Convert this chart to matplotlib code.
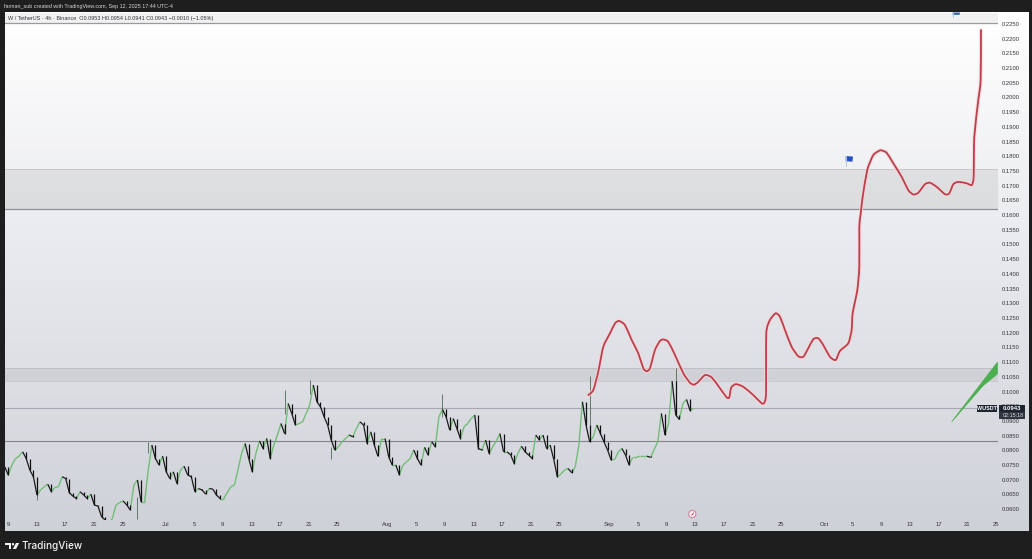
import numpy as np
import matplotlib
matplotlib.use("Agg")
import matplotlib.pyplot as plt
from matplotlib.patches import Polygon, Rectangle, Circle, PathPatch
from matplotlib.path import Path
from matplotlib.collections import LineCollection
import matplotlib.patheffects as pe

W, H = 1032, 559
plt.rcParams['font.family'] = ['Liberation Sans', 'DejaVu Sans']

# x unit: days after 9 June
tick_days = [0, 4, 8, 12, 16, 22, 26, 30, 34, 38, 42, 46, 53, 57, 61, 65, 69, 73, 77,
             84, 88, 92, 96, 100, 104, 108, 114, 118, 122, 126, 130, 134, 138]
tick_names = ['9', '13', '17', '21', '25', 'Jul', '5', '9', '13', '17', '21', '25', 'Aug', '5', '9',
              '13', '17', '21', '25', 'Sep', '5', '9', '13', '17', '21', '25', 'Oct', '5', '9',
              '13', '17', '21', '25']
price_ticks = [0.0600, 0.0650, 0.0700, 0.0750, 0.0800, 0.0850, 0.0900, 0.0950, 0.1000, 0.1050, 0.1100,
               0.1150, 0.1200, 0.1250, 0.1300, 0.1350, 0.1400, 0.1450, 0.1500, 0.1550, 0.1600, 0.1650,
               0.1700, 0.1750, 0.1800, 0.1850, 0.1900, 0.1950, 0.2000, 0.2050, 0.2100, 0.2150, 0.2200,
               0.2250]

closes = [
 .0744, .0716, .0750, .0772, .0780, .0795, .0772, .0733, .0710, .0648, .0665, .0676, .0685, .0659, .0674,
 .0676, .0710, .0704, .0656, .0644, .0636, .0659, .0648, .0636, .0651, .0614, .0610, .0574, .0563, .0551,
 .0568, .0614, .0622, .0628, .0614, .0597, .0682, .0699, .0625, .0625, .0733, .0818, .0772, .0750, .0780,
 .0727, .0704, .0727, .0687, .0733, .0746, .0716, .0710, .0659, .0670, .0665, .0651, .0670, .0668, .0648,
 .0636, .0636, .0656, .0676, .0682, .0733, .0789, .0823, .0772, .0727, .0789, .0832, .0806, .0840, .0772,
 .0818, .0852, .0891, .0857, .0959, .0925, .0886, .0891, .0897, .0925, .0954, .1022, .0965, .0948, .0914,
 .0886, .0835, .0801, .0812, .0829, .0840, .0852,
 .0846, .0874, .0897, .0886, .0823, .0863, .0818, .0780, .0840, .0840, .0778, .0750, .0750, .0716, .0750,
 .0761, .0772, .0801, .0772, .0750, .0810, .0784, .0829, .0812, .0914, .0939, .0914, .0869, .0908, .0874,
 .0840, .0880, .0891, .0908, .0920, .0806, .0801, .0835, .0789, .0812, .0832, .0857, .0795, .0795, .0784,
 .0755, .0789, .0814, .0795, .0784, .0772, .0852, .0835, .0852, .0806, .0818, .0769, .0710, .0719, .0733,
 .0738, .0724, .0744, .0818, .0965, .0886, .0829, .0846, .0886, .0857, .0829, .0801, .0767, .0769, .0795,
 .0806, .0784, .0750, .0776, .0776, .0780, .0780, .0780, .0776, .0803, .0829, .0925, .0852, .0891, .1035,
 .0920, .0905, .0959, .0973, .0935, .0943]
first_candle_day = -0.46
last_candle_day = 95.77

# (day, low end, high end) of the long wicks
wick_days = [3.9, 18.0, 19.5, 38.5, 42.2, 44.9, 60.5, 81.0, 93.5]
wick_lows = [.0631, .0565, .0790, .0925, .0990, .0769, .0914, .0886, .0920]
wick_highs = [.0680, .0640, .0829, .1005, .1039, .0812, .0991, .1052, .1080]

red_days = [81.05, 81.75, 82.44, 83.14, 84.08, 84.78, 85.34, 86.17, 87.11, 88.03, 88.73, 89.20, 89.66, 90.36,
            91.06, 91.52, 92.22, 93.16, 94.32, 95.25, 95.81, 96.41, 97.35, 98.28, 99.44, 100.38, 100.74,
            101.02, 101.68, 102.70, 104.09, 105.26, 105.63, 105.87, 105.91, 106.42, 107.22, 107.82, 108.52,
            109.45, 110.38, 111.08, 111.77, 112.47, 113.17, 113.87, 114.80, 115.60, 116.20, 117.36, 117.83,
            117.97, 118.62, 118.90, 118.90, 119.07, 119.37, 120.01, 120.85, 121.69, 122.02, 122.72, 123.65,
            124.82, 125.74, 126.45, 127.14, 128.07, 128.77, 129.71, 130.87, 131.47, 132.03, 132.73, 133.90,
            134.60, 134.87, 134.96, 135.52, 135.85, 135.89]
red_prices = [.0988, .1005, .1067, .1152, .1198, .1232, .1240, .1226, .1175, .1130, .1079, .1069, .1079, .1141,
              .1172, .1177, .1169, .1124, .1062, .1030, .1023, .1033, .1056, .1048, .1011, .0980, .0980,
              .1014, .1025, .1016, .0988, .0960, .0962, .0994, .1198, .1243, .1266, .1254, .1209,
              .1152, .1120, .1118, .1147, .1178, .1181, .1158, .1118, .1107, .1138, .1164, .1209,
              .1266, .1345, .1424, .1560, .1600, .1662, .1753, .1804, .1819, .1820, .1812, .1776,
              .1730, .1685, .1670, .1676, .1705, .1710, .1696, .1671, .1674, .1705, .1713, .1708,
              .1702, .1730, .1866, .1991, .2059, .2229]

green_days = [131.8, 138.2, 138.2, 136.2, 134.3]
green_prices = [.0897, .1100, .1060, .1020, .0967]

zone_high = (.1621, .1757)
zone_low = (.1035, .1081)
top_band = .2253
level_a = .0943
level_b = .0830

fig = plt.figure(figsize=(W / 100, H / 100), dpi=100, facecolor='#1e1e1e')

# pixel overlay for panel background
bg = fig.add_axes([0, 0, 1, 1], zorder=0)
bg.axis('off')
grad = np.linspace(0, 1, 256)[:, None, None]
top_c = np.array([1.0, 1.0, 1.0])
bot_c = np.array([0.81, 0.82, 0.85])
img = top_c + (bot_c - top_c) * grad
bg.imshow(img, extent=(4.7, 1028, 531, 12.5), aspect='auto', zorder=0)
bg.set_xlim(0, W)
bg.set_ylim(H, 0)

# main price axes: px 4.7..997.7, py 12.5..520
ax = fig.add_axes([4.7 / W, (H - 520) / H, 993 / W, 507.5 / H], zorder=1)
ax.patch.set_alpha(0)
ax.set_xlim(-0.46, 138.23)
ax.set_ylim(.0563, .2289)
for s in ax.spines.values():
    s.set_visible(False)

ax.axhspan(top_band, .2289, color='#000000', alpha=0.05, lw=0)
ax.axhline(top_band, color='#9a9a9e', lw=0.9)
ax.axhspan(*zone_high, color='#000000', alpha=0.07, lw=0)
ax.axhline(zone_high[0], color='#8f8f94', lw=0.9)
ax.axhline(zone_high[1], color='#c6c6c9', lw=0.7)
ax.axhspan(*zone_low, color='#000000', alpha=0.055, lw=0)
ax.axhline(zone_low[0], color='#c8c8cc', lw=0.6)
ax.axhline(zone_low[1], color='#bcbcc0', lw=0.6)
ax.axhline(level_a, color='#a6a6b4', lw=0.8)
ax.axhline(level_b, color='#83838a', lw=0.8)

# candles
c = np.array(closes)
x = np.linspace(first_candle_day, last_candle_day, len(c))
o = np.r_[c[0], c[:-1]]
up = c >= o
segs = np.stack([np.c_[np.r_[x[0], x[:-1]], o], np.c_[x, c]], axis=1)
ax.add_collection(LineCollection(segs[up], colors='#72bd76', linewidths=1.0, zorder=3))
ax.add_collection(LineCollection(segs[~up], colors='#1a1a1a', linewidths=0.9, zorder=4))
ax.vlines(x[~up], o[~up], c[~up], color='#101010', lw=0.9, zorder=4)
for d, lo, hi in zip(wick_days, wick_lows, wick_highs):
    i = np.argmin(np.abs(x - d))
    ax.vlines(x[i], lo, hi, color='#4d6b52', lw=0.6, zorder=2)


def smooth_path(px, py):
    """Cubic path running through every given vertex."""
    pts = np.c_[px, py]
    verts = [pts[0]]
    codes = [Path.MOVETO]
    for i in range(len(pts) - 1):
        p0 = pts[max(i - 1, 0)]
        p1 = pts[i]
        p2 = pts[i + 1]
        p3 = pts[min(i + 2, len(pts) - 1)]
        verts += [p1 + (p2 - p0) / 9, p2 - (p3 - p1) / 9, p2]
        codes += [Path.CURVE4] * 3
    return Path(verts, codes)


# drawn forecast path
ax.add_patch(PathPatch(smooth_path(red_days, red_prices), facecolor='none', edgecolor='#bb3f4c', lw=1.3,
                       capstyle='round', joinstyle='round', zorder=5,
                       path_effects=[pe.Stroke(linewidth=2.9, foreground='#f8d5d8', alpha=0.75), pe.Normal()]))
ax.add_patch(Polygon(np.c_[green_days, green_prices], closed=True, facecolor='#4caf50', edgecolor='#4caf50',
                     lw=0.5, zorder=5))

ax.xaxis.set_ticks(tick_days, tick_names)
ax.yaxis.tick_right()
ax.set_yticks(price_ticks, [f'{p:.4f}' for p in price_ticks])
ax.tick_params(axis='x', length=0, pad=1.6, labelsize=4.2, colors='#33333a')
ax.tick_params(axis='y', length=0, pad=3.0, labelsize=4.2, colors='#33333a')

# overlay in pixel coordinates
ov = fig.add_axes([0, 0, 1, 1], zorder=2)
ov.patch.set_alpha(0)
ov.set_xlim(0, W)
ov.set_ylim(H, 0)
ov.axis('off')

ov.text(4, 6.3, 'fannan_sub created with TradingView.com, Sep 12, 2025 17:44 UTC-4', color='#d8d8d8', fontsize=3.85,
        va='center', ha='left')
ov.text(8, 18.6, 'W / TetherUS · 4h · Binance  O0.0953 H0.0954 L0.0941 C0.0943 −0.0010 (−1.05%)',
        color='#33343a', fontsize=3.95, va='center', ha='left')

# flags
ov.add_patch(Polygon([(845.7, 156), (853, 156.6), (852.4, 161.7), (845.7, 161.2)], closed=True, color='#2450c4', lw=0))
ov.plot([845.6, 845.6], [156, 166], color='#b8c4de', lw=0.7)
ov.add_patch(Polygon([(952.7, 12.5), (960, 12.5), (959.6, 14.8), (952.7, 14.8)], closed=True, color='#2f5fa8', lw=0))
ov.plot([952.6, 952.6], [12.5, 16.7], color='#b8c4de', lw=0.7)

# compass icon
ov.add_patch(Circle((692.3, 514), 3.6, facecolor='#fbf3f6', edgecolor='#d77f9f', lw=0.8))
ov.add_patch(Polygon([(690.8, 515.6), (694.3, 511.8), (693, 515)], closed=True, color='#b4324f', lw=0))

# price tags
ov.add_patch(Rectangle((977, 405), 20, 7.3, color='#1e2430', lw=0))
ov.text(987, 408.7, 'WUSDT', color='white', fontsize=3.9, ha='center', va='center', fontweight='bold')
ov.add_patch(Rectangle((999, 405), 26, 7.3, color='#1e2430', lw=0))
ov.add_patch(Rectangle((999, 412.3), 26, 6.2, color='#30353f', lw=0))
ov.text(1002.5, 408.7, '0.0943', color='white', fontsize=4.3, ha='left', va='center', fontweight='bold')
ov.text(1002.5, 415.5, '02:15:18', color='#d4d6da', fontsize=3.9, ha='left', va='center')

# logo
ov.add_patch(Polygon([(5.3, 543), (11.4, 543), (11.4, 549), (8.8, 549), (8.8, 545.4), (5.3, 545.4)], closed=True,
                     color='#f2f2f2', lw=0))
ov.add_patch(Circle((13.0, 544.2), 1.2, color='#f2f2f2', lw=0))
ov.add_patch(Polygon([(16.0, 543), (19.2, 543), (16.0, 549), (12.8, 549)], closed=True, color='#f2f2f2', lw=0))
ov.text(21.8, 545.8, 'TradingView', color='#f2f2f2', fontsize=7.2, ha='left', va='center',
        family=['Inter', 'DejaVu Sans'], fontweight='medium')

fig.savefig('out.png', dpi=100, facecolor=fig.get_facecolor())
